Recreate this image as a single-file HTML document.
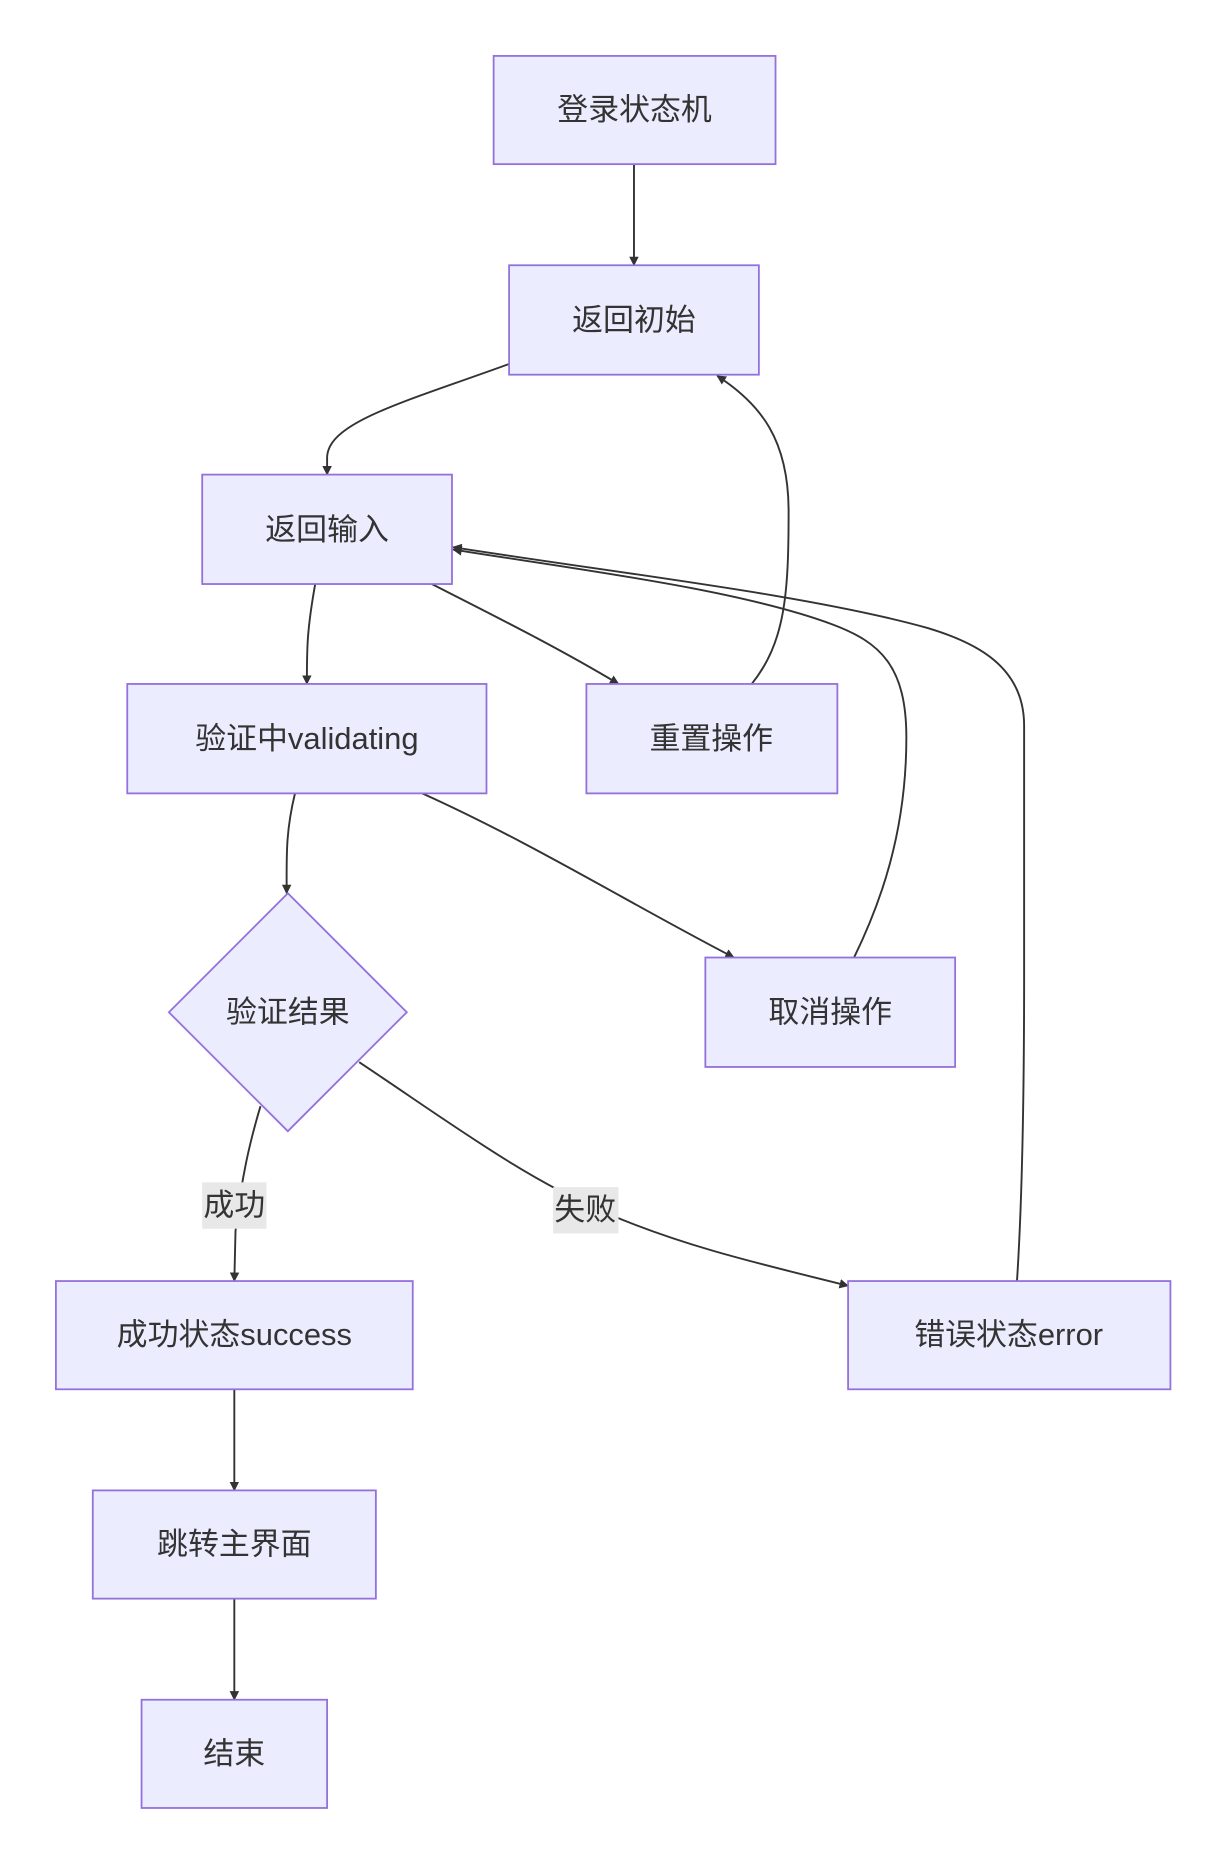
<!DOCTYPE html>
<html><head><meta charset="utf-8"><style>html,body{margin:0;padding:0;background:#fff}svg{display:block}</style></head>
<body>
<svg width="1218" height="1852" viewBox="0 0 1024 1557" xmlns="http://www.w3.org/2000/svg">
<defs><marker id="a" viewBox="0 0 10 10" refX="9" refY="5" markerWidth="8" markerHeight="8" markerUnits="userSpaceOnUse" orient="auto"><path d="M0,0L10,5L0,10z" fill="#333"/></marker></defs>
<g fill="none" stroke="#333" stroke-width="1.6" marker-end="url(#a)">
<path d="M533,138 L533,223"/>
<path d="M428,306 C340,338 275,355 275,385 L275,399"/>
<path d="M265,491 C258,530 258,545 258,575"/>
<path d="M363,491 C420,520 470,545 520,575"/>
<path d="M632,575 C660,540 663,500 663,430 C663,370 640,340 603,316"/>
<path d="M718,805 C740,760 762,700 762,620 C762,560 740,540 700,525 C620,495 480,478 381,462"/>
<path d="M855,1077 C860,1000 861,900 861,820 L861,610 C861,560 820,540 780,528 C680,500 520,482 381,460"/>
<path d="M248,667 C240,700 241,720 241,751"/>
<path d="M355,667 C450,710 530,760 617,805"/>
<path d="M219,930 C210,960 203,990 198,1035 L197,1077"/>
<path d="M302,893 C380,945 440,990 510,1020 C580,1050 650,1065 713,1081"/>
<path d="M197,1168 L197,1253"/>
<path d="M197,1344 L197,1429"/>
</g>
<g fill="#ececff" stroke="#9370db" stroke-width="1.5">
<rect x="415" y="47" width="237" height="91"/>
<rect x="428" y="223" width="210" height="92"/>
<rect x="170" y="399" width="210" height="92"/>
<rect x="107" y="575" width="302" height="92"/>
<rect x="493" y="575" width="211" height="92"/>
<polygon points="242,751 342,851 242,951 142,851"/>
<rect x="593" y="805" width="210" height="92"/>
<rect x="47" y="1077" width="300" height="91"/>
<rect x="713" y="1077" width="271" height="91"/>
<rect x="78" y="1253" width="238" height="91"/>
<rect x="119" y="1429" width="156" height="91"/>
</g>
<g fill="#e8e8e8"><rect x="170" y="994" width="54" height="39"/><rect x="465" y="998" width="55" height="39"/></g>
<g font-family="'Liberation Sans','Noto Sans CJK SC',sans-serif" font-size="26" fill="#333" text-anchor="middle" dominant-baseline="central">
<text x="533.5" y="92">登录状态机</text>
<text x="533" y="269">返回初始</text>
<text x="275" y="445">返回输入</text>
<text x="258" y="621">验证中validating</text>
<text x="598" y="621">重置操作</text>
<text x="242" y="851">验证结果</text>
<text x="698" y="851">取消操作</text>
<text x="197" y="1013">成功</text>
<text x="492" y="1017">失败</text>
<text x="197" y="1122">成功状态success</text>
<text x="848" y="1122">错误状态error</text>
<text x="197" y="1298">跳转主界面</text>
<text x="197" y="1474">结束</text>
</g>
</svg>
</body></html>
